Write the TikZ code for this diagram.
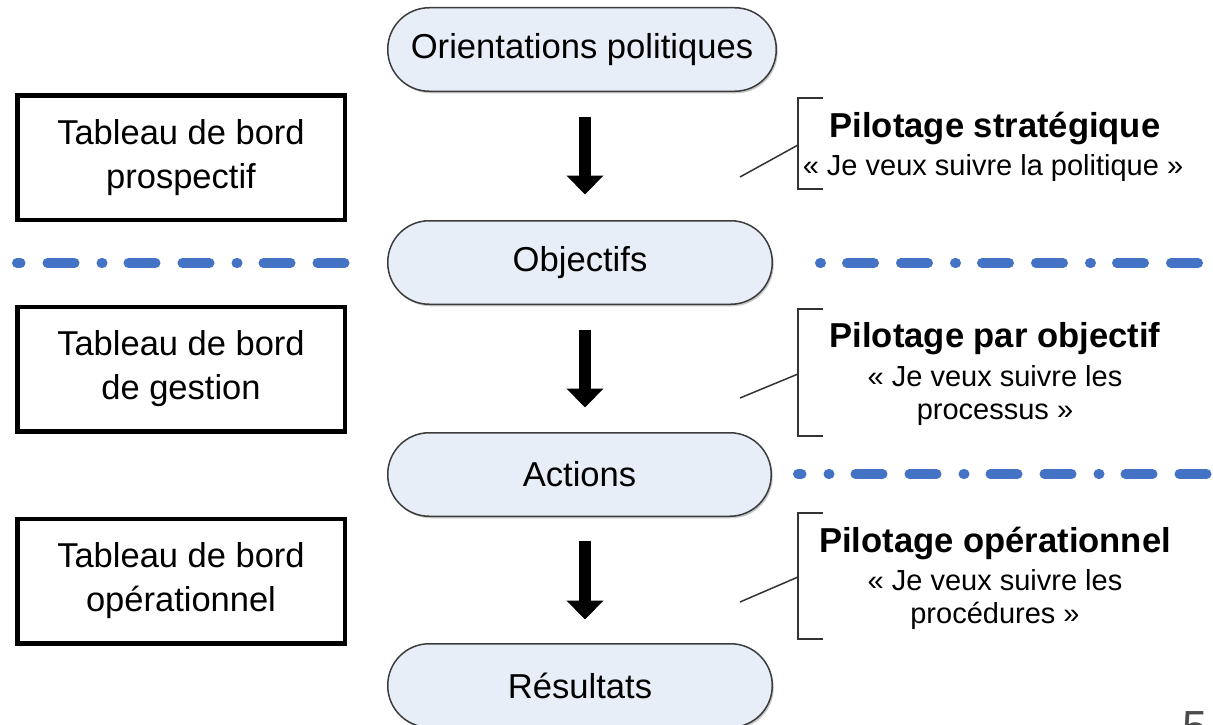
\documentclass[tikz,border=0pt]{standalone}
\usepackage{fontspec}
\setmainfont{Liberation Sans}
\usetikzlibrary{arrows.meta,shadows}
\definecolor{pillfill}{RGB}{232,238,248}
\definecolor{sepblue}{RGB}{68,114,196}
\definecolor{pillborder}{RGB}{60,60,60}
\begin{document}
\begin{tikzpicture}[x=1pt,y=-1pt,
  pill/.style={draw=pillborder, line width=1.5pt, fill=pillfill, rounded corners=41.5pt,
    minimum height=83.5pt, inner sep=0pt, font=\fontsize{34.6}{40}\selectfont,
    drop shadow={shadow xshift=1.5pt, shadow yshift=-2pt, fill=black, opacity=0.22}},
  tbbox/.style={draw=black, line width=4.5pt, minimum width=327.5pt, minimum height=124.5pt,
    align=center, inner sep=0pt, font=\fontsize{34.5}{44}\selectfont},
  bigarrow/.style={line width=12pt, -{Triangle[width=36pt,length=19pt]}},
  sepline/.style={sepblue, line width=10pt, line cap=round,
    dash pattern=on 1pt off 26pt on 27pt off 27pt on 27pt off 27pt},
  brk/.style={draw=black!80, line width=1.5pt},
  ttl/.style={font=\bfseries\fontsize{34.6}{40}\selectfont, anchor=base, inner sep=0pt},
  subt/.style={font=\fontsize{29}{33}\selectfont, anchor=base, inner sep=0pt}]
\useasboundingbox (0,0) rectangle (1213,725);
\clip (0,0) rectangle (1213,725);
\fill[white] (0,0) rectangle (1213,725);

% separator lines
\coordinate (s1a) at (17,263);  \coordinate (s1b) at (348,263);
\coordinate (s2a) at (820,263); \coordinate (s2b) at (1200,263);
\coordinate (s3a) at (798,474); \coordinate (s3b) at (1230,474);
\draw[sepline, dash phase=50.5pt] (s1a) -- (s1b);
\draw[sepline, dash phase=0pt] (s2a) -- (s2b);
\draw[sepline, dash phase=104.5pt] (s3a) -- (s3b);

% pills
\node[pill, minimum width=388.5pt] (o) at (582,49.5) {Orientations politiques};
\node[pill, minimum width=384.5pt] (obj) at (580,262.5) {Objectifs};
\node[pill, minimum width=383.5pt] (act) at (579.5,474.5) {Actions};
\node[pill, minimum width=384.5pt] (res) at (580,685.5) {Résultats};

% arrows
\coordinate (ax) at (585,0);
\draw[bigarrow, shorten <=25pt, shorten >=25.5pt] (o.south -| ax) -- (obj.north -| ax);
\draw[bigarrow, shorten <=25pt, shorten >=24.5pt] (obj.south -| ax) -- (act.north -| ax);
\draw[bigarrow, shorten <=24pt, shorten >=23.5pt] (act.south -| ax) -- (res.north -| ax);

% left boxes
\node[tbbox] (tb1) at (181,157.5) {Tableau de bord\\prospectif};
\node[tbbox] (tb2) at (181,369) {Tableau de bord\\de gestion};
\node[tbbox] (tb3) at (181,581) {Tableau de bord\\opérationnel};

% callout 1
\coordinate (b1t) at (823,98); \coordinate (b1tl) at (798,98);
\coordinate (b1bl) at (798,189); \coordinate (b1b) at (823,189);
\coordinate (b1m) at (798,145); \coordinate (l1) at (740,177);
\draw[brk] (b1t) -- (b1tl) -- (b1bl) -- (b1b);
\draw[brk] (l1) -- (b1m);
\node[ttl] (p1) at (995,137) {Pilotage stratégique};
\node[subt] (q1) at (993,175) {« Je veux suivre la politique »};

% callout 2
\coordinate (b2t) at (823,309); \coordinate (b2tl) at (798,309);
\coordinate (b2bl) at (798,436); \coordinate (b2b) at (823,436);
\coordinate (b2m) at (798,374); \coordinate (l2) at (740,398);
\draw[brk] (b2t) -- (b2tl) -- (b2bl) -- (b2b);
\draw[brk] (l2) -- (b2m);
\node[ttl] (p2) at (995,347) {Pilotage par objectif};
\node[subt] (q2a) at (995,386) {« Je veux suivre les};
\node[subt] (q2b) at (995,419) {processus »};

% callout 3
\coordinate (b3t) at (823,513); \coordinate (b3tl) at (798,513);
\coordinate (b3bl) at (798,639); \coordinate (b3b) at (823,639);
\coordinate (b3m) at (798,577); \coordinate (l3) at (740,602);
\draw[brk] (b3t) -- (b3tl) -- (b3bl) -- (b3b);
\draw[brk] (l3) -- (b3m);
\node[ttl] (p3) at (995,552) {Pilotage opérationnel};
\node[subt] (q3a) at (995,590) {« Je veux suivre les};
\node[subt] (q3b) at (995,623) {procédures »};

% page number (cut off at the bottom edge, as in the reference)
\node[anchor=base west, inner sep=0pt, text=black!70, font=\fontsize{45}{50}\selectfont] (pg) at (1182,742) {5};
\end{tikzpicture}
\end{document}
